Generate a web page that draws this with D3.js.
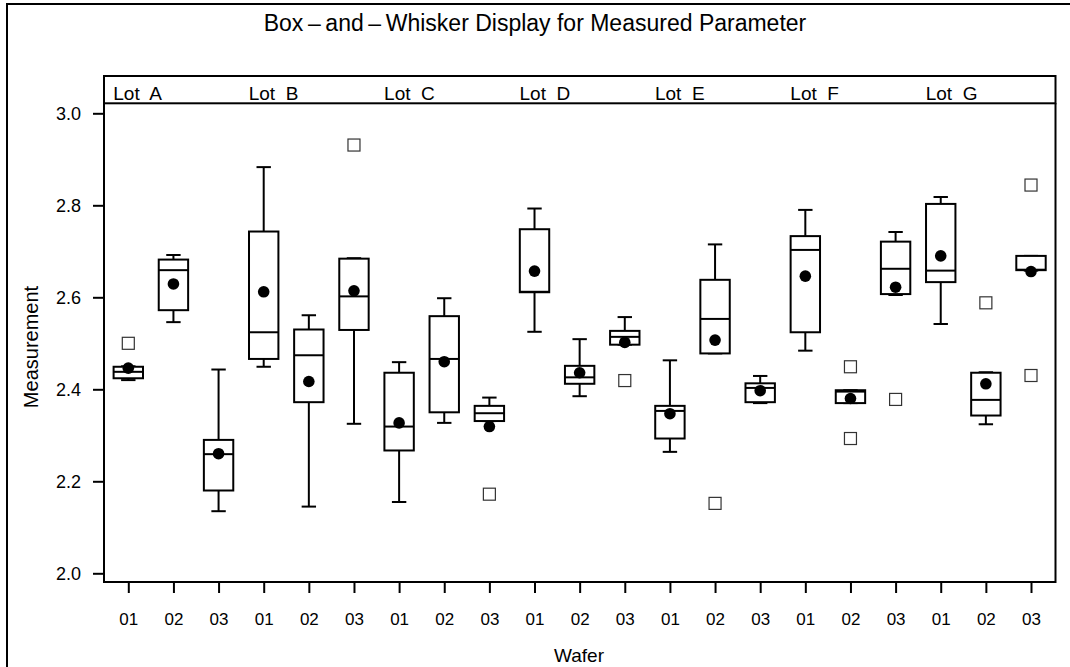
<!DOCTYPE html>
<html>
<head>
<meta charset="utf-8">
<script src="https://cdn.jsdelivr.net/npm/d3@7"></script>
<style>
  html, body { margin: 0; padding: 0; background: #fff; }
  svg { display: block; }
  text { font-family: "Liberation Sans", Arial, Helvetica, sans-serif; fill: #000; }
</style>
</head>
<body>
<svg id="chart" width="1070" height="667"></svg>
<script>
// Lots and wafers
const lots = ["A", "B", "C", "D", "E", "F", "G"];
const wafers = ["01", "02", "03"];
const yTicks = [2.0, 2.2, 2.4, 2.6, 2.8, 3.0];

// Box statistics per lot/wafer (A-01 ... G-03)
const whiskerLow  = [2.420, 2.546, 2.135, 2.449, 2.145, 2.325, 2.155, 2.327, 2.331, 2.525, 2.385, 2.497, 2.264, 2.478, 2.370, 2.484, 2.370, 2.605, 2.542, 2.324, 2.658];
const quart1      = [2.424, 2.572, 2.180, 2.466, 2.372, 2.529, 2.267, 2.350, 2.331, 2.611, 2.412, 2.497, 2.293, 2.478, 2.372, 2.524, 2.370, 2.607, 2.633, 2.343, 2.659];
const medians     = [2.438, 2.659, 2.259, 2.524, 2.474, 2.602, 2.319, 2.466, 2.348, 2.612, 2.426, 2.514, 2.353, 2.553, 2.403, 2.703, 2.395, 2.662, 2.658, 2.377, 2.660];
const quart3      = [2.449, 2.682, 2.290, 2.743, 2.530, 2.684, 2.436, 2.559, 2.364, 2.748, 2.451, 2.527, 2.364, 2.638, 2.413, 2.733, 2.398, 2.721, 2.803, 2.436, 2.690];
const whiskerHigh = [2.450, 2.692, 2.443, 2.883, 2.561, 2.685, 2.459, 2.598, 2.382, 2.793, 2.509, 2.557, 2.463, 2.715, 2.429, 2.790, 2.398, 2.742, 2.818, 2.437, 2.690];
const means       = [2.446, 2.629, 2.260, 2.612, 2.417, 2.614, 2.327, 2.460, 2.319, 2.657, 2.436, 2.502, 2.347, 2.507, 2.397, 2.646, 2.380, 2.622, 2.690, 2.412, 2.656];
const outliers    = [[2.500], [], [], [], [], [2.931], [], [], [2.172], [], [], [2.419], [], [2.152], [], [], [2.449, 2.293], [2.378], [], [2.588], [2.844, 2.430]];

const groups = [];
lots.forEach(l => wafers.forEach(w => groups.push({ lot: l, wafer: w })));
groups.forEach((g, i) => {
  g.key = i;
  g.lo = whiskerLow[i]; g.q1 = quart1[i]; g.med = medians[i];
  g.q3 = quart3[i]; g.hi = whiskerHigh[i]; g.mean = means[i];
  g.out = outliers[i];
});

const svg = d3.select("#chart");
const plot = { left: 104, right: 1055.5, top: 103.3, bottom: 582 };

const x = d3.scalePoint().domain(groups.map(g => g.key)).range([128.3, 1031]);
const y = d3.scaleLinear().domain([2.0, 3.0]).range([573.3, 113.3]);

// Outer frame
svg.append("rect").attr("x", 7).attr("y", 4).attr("width", 1080).attr("height", 700)
  .attr("fill", "none").attr("stroke", "#000").attr("stroke-width", 2);

// Title
svg.append("text").attr("x", 535).attr("y", 31).attr("text-anchor", "middle")
  .attr("font-size", 23).text("Box\u2009\u2013\u2009and\u2009\u2013\u2009Whisker Display for Measured Parameter");

// Lot band
svg.append("rect").attr("x", plot.left).attr("y", 76)
  .attr("width", plot.right - plot.left).attr("height", plot.top - 76)
  .attr("fill", "none").attr("stroke", "#000").attr("stroke-width", 2);
svg.selectAll(".lot").data(lots).enter().append("text")
  .attr("class", "lot")
  .attr("x", (d, i) => x(i * 3) - 15)
  .attr("y", 100)
  .attr("font-size", 19)
  .attr("xml:space", "preserve")
  .text(d => "Lot  " + d);

// Plot frame (left, right, bottom)
svg.append("path")
  .attr("d", `M${plot.left},${plot.top}V${plot.bottom}H${plot.right}V${plot.top}`)
  .attr("fill", "none").attr("stroke", "#000").attr("stroke-width", 2);

// Y axis
const yAxis = d3.axisLeft(y).tickValues(yTicks).tickFormat(d3.format(".1f"))
  .tickSize(11).tickPadding(12);
const gy = svg.append("g").attr("transform", `translate(${plot.left},0)`).call(yAxis);
gy.select(".domain").remove();
gy.selectAll(".tick line").attr("stroke-width", 2);
gy.selectAll(".tick text").attr("font-size", 18).attr("font-family", "Liberation Sans, Arial, sans-serif");

// X axis
const xAxis = d3.axisBottom(x).tickFormat(i => groups[i].wafer).tickSize(11).tickPadding(20);
const gx = svg.append("g").attr("transform", `translate(0,${plot.bottom})`).call(xAxis);
gx.select(".domain").remove();
gx.selectAll(".tick line").attr("stroke-width", 2);
gx.selectAll(".tick text").attr("font-size", 17).attr("font-family", "Liberation Sans, Arial, sans-serif");

// Axis labels
svg.append("text").attr("x", 579).attr("y", 662).attr("text-anchor", "middle")
  .attr("font-size", 19).text("Wafer");
svg.append("text").attr("transform", "translate(38,347) rotate(-90)")
  .attr("text-anchor", "middle").attr("font-size", 20).text("Measurement");

// Boxes
const halfBox = 14.7, halfCap = 7.2;
const box = svg.append("g").attr("stroke", "#000").attr("stroke-width", 2).attr("fill", "none");
const gg = box.selectAll("g").data(groups).enter().append("g");

// whiskers
gg.append("line").attr("x1", d => x(d.key)).attr("x2", d => x(d.key))
  .attr("y1", d => y(d.q3)).attr("y2", d => y(d.hi));
gg.append("line").attr("x1", d => x(d.key)).attr("x2", d => x(d.key))
  .attr("y1", d => y(d.q1)).attr("y2", d => y(d.lo));
gg.append("line").attr("x1", d => x(d.key) - halfCap).attr("x2", d => x(d.key) + halfCap)
  .attr("y1", d => y(d.hi)).attr("y2", d => y(d.hi));
gg.append("line").attr("x1", d => x(d.key) - halfCap).attr("x2", d => x(d.key) + halfCap)
  .attr("y1", d => y(d.lo)).attr("y2", d => y(d.lo));
// box and median
gg.append("rect").attr("x", d => x(d.key) - halfBox).attr("width", 2 * halfBox)
  .attr("y", d => y(d.q3)).attr("height", d => y(d.q1) - y(d.q3)).attr("fill", "#fff");
gg.append("line").attr("x1", d => x(d.key) - halfBox).attr("x2", d => x(d.key) + halfBox)
  .attr("y1", d => y(d.med)).attr("y2", d => y(d.med));

// means
svg.append("g").selectAll("circle").data(groups).enter().append("circle")
  .attr("cx", d => x(d.key)).attr("cy", d => y(d.mean)).attr("r", 5.8).attr("fill", "#000");

// outliers
const outPts = groups.flatMap(g => g.out.map(v => ({ key: g.key, v })));
svg.append("g").selectAll("rect").data(outPts).enter().append("rect")
  .attr("x", d => x(d.key) - 6).attr("y", d => y(d.v) - 6)
  .attr("width", 12).attr("height", 12)
  .attr("fill", "none").attr("stroke", "#333").attr("stroke-width", 1.2);
</script>
</body>
</html>
